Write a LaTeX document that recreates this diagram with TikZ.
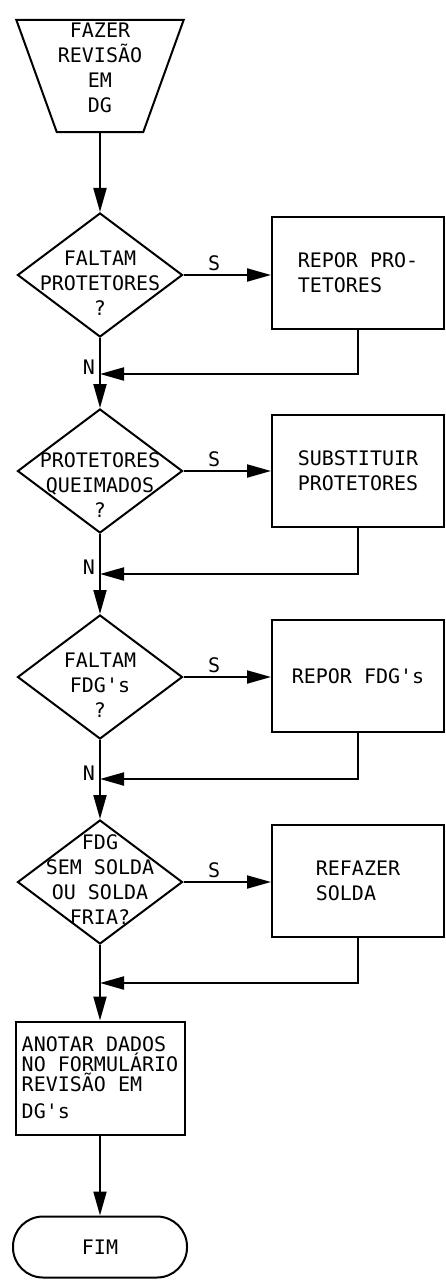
\documentclass[tikz,border=0pt]{standalone}
\usepackage{fontspec}
\setmonofont{DejaVu Sans Mono}
\usetikzlibrary{arrows.meta,positioning,shapes.geometric}

\begin{document}
\begin{tikzpicture}[x=1pt,y=-1pt,
    every node/.style={font=\ttfamily\fontsize{20}{25}\selectfont},
    linie/.style={line width=2pt},
    pfeil/.style={linie,-{Triangle[length=24pt,width=13pt]}},
    kasten/.style={draw,linie,minimum width=172pt,minimum height=112pt,align=left,inner sep=0pt},
    raute/.style={draw,linie,diamond,minimum width=165pt,minimum height=124pt,inner sep=0pt},
    rtext/.style={align=center,inner sep=0pt},
    lbl/.style={inner sep=1pt}]
        % Rahmen
        \useasboundingbox (0,0) rectangle (446,1281);

        % Start
        \node[minimum width=167pt,minimum height=112pt,inner sep=0pt] (start) at (100,76) {};
        \draw[linie] (start.north west) -- (start.north east)
          -- ([xshift=-40.5pt]start.south east) -- ([xshift=40.5pt]start.south west) -- cycle;
        \node[rtext] (t0) at (100,68) {FAZER\\REVISÃO\\EM\\DG};

        % Abfragen
        \node[raute] (d1) at (100,275) {};
        \node[rtext] (t1) at (100,283) {FALTAM\\PROTETORES\\?};
        \node[raute] (d2) at (100,471) {};
        \node[rtext] (t2) at (100,485) {PROTETORES\\QUEIMADOS\\?};
        \node[raute] (d3) at (100,677) {};
        \node[rtext] (t3) at (100,685) {FALTAM\\FDG's\\?};
        \node[raute] (d4) at (100,882) {};
        \node[rtext] (t4) at (100,880) {FDG\\SEM SOLDA\\OU SOLDA\\FRIA?};

        % Massnahmen
        \node[kasten] (b1) at (358,273) {REPOR PRO-\\TETORES};
        \node[kasten] (b2) at (358,471) {SUBSTITUIR\\PROTETORES};
        \node[kasten] (b3) at (358,676) {REPOR FDG's};
        \node[kasten] (b4) at (358,881) {REFAZER\\SOLDA};

        % Formular und Ende
        \node[kasten,minimum width=169pt,minimum height=113pt,
              font=\ttfamily\fontsize{20}{20}\selectfont] (b5) at (100,1078)
              {ANOTAR DADOS\\NO FORMULÁRIO\\REVISÃO EM\\[7pt]DG's};
        \node[draw,linie,rounded corners=30pt,minimum width=174pt,
              minimum height=61pt] (fim) at (100,1247) {FIM};

        % Sammelpunkte
        \coordinate (j1) at (100,374);
        \coordinate (j2) at (100,574);
        \coordinate (j3) at (100,779);
        \coordinate (j4) at (100,983);

        % Verbindungen
        \draw[pfeil] (start.south) -- (d1.north);
        \draw[pfeil] (d1.east) -- (b1.west |- d1.east) node[lbl,above=2pt,pos=0.35] (s1) {S};
        \draw[pfeil] (d1.south) -- (d2.north) node[lbl,left=3pt,pos=0.42] (n1) {N};
        \draw[pfeil] (b1.south) |- (j1);
        \draw[pfeil] (d2.east) -- (b2.west |- d2.east) node[lbl,above=2pt,pos=0.35] (s2) {S};
        \draw[pfeil] (d2.south) -- (d3.north) node[lbl,left=3pt,pos=0.42] (n2) {N};
        \draw[pfeil] (b2.south) |- (j2);
        \draw[pfeil] (d3.east) -- (b3.west |- d3.east) node[lbl,above=2pt,pos=0.35] (s3) {S};
        \draw[pfeil] (d3.south) -- (d4.north) node[lbl,left=3pt,pos=0.42] (n3) {N};
        \draw[pfeil] (b3.south) |- (j3);
        \draw[pfeil] (d4.east) -- (b4.west |- d4.east) node[lbl,above=2pt,pos=0.35] (s4) {S};
        \draw[pfeil] (d4.south) -- (b5.north);
        \draw[pfeil] (b4.south) |- (j4);
        \draw[pfeil] (b5.south) -- (fim.north);
\end{tikzpicture}
\end{document}
